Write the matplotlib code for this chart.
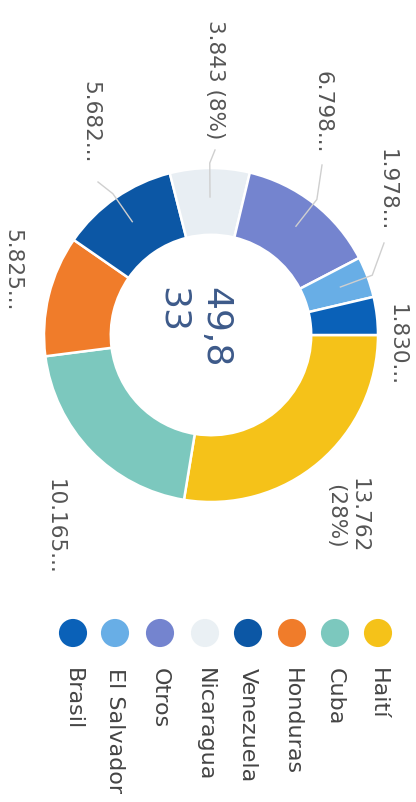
import matplotlib.pyplot as plt
import numpy as np

# data
paises = ['Haití', 'Cuba', 'Honduras', 'Venezuela', 'Nicaragua', 'Otros', 'El Salvador', 'Brasil']
valores = [13762, 10165, 5825, 5682, 3843, 6798, 1978, 1830]
etiquetas = ['13.762\n(28%)', '10.165...', '5.825...', '5.682...', '3.843 (8%)', '6.798...', '1.978...', '1.830...']
total_txt = '49,8\n33'

colores = ['#F5C219', '#7CC8BE', '#F07C2A', '#0C57A5', '#E8EEF3', '#7484CF', '#68AEE6', '#0A61B8']

# layout (pixels, origin top-left; whole chart is turned 90 deg)
W, H = 416, 802
cx, cy = 211, 335
r_out = 167
label_xy = [(347, 516), (55, 527), (12, 270), (90, 122), (215, 80), (323, 112), (387, 190), (397, 345)]
line_end = [None, None, None, (98, 182), (215, 150), (322, 165), (384, 243), None]

fig = plt.figure(figsize=(W / 100, H / 100), dpi=100)
ax = fig.add_axes([0, 0, 1, 1])

wedges, _ = ax.pie(valores, colors=colores, startangle=0, counterclock=True,
                   center=(cx, cy), radius=r_out,
                   wedgeprops=dict(width=r_out * 0.4, edgecolor='white', linewidth=1.8))
ax.set_xlim(0, W)
ax.set_ylim(H, 0)
ax.axis('off')

# labels and leader lines
for w, txt, (lx, ly), le in zip(wedges, etiquetas, label_xy, line_end):
    ang = np.deg2rad((w.theta1 + w.theta2) / 2)
    if le is not None:
        x0, y0 = cx + 138 * np.cos(ang), cy + 138 * np.sin(ang)
        x1, y1 = cx + 172 * np.cos(ang), cy + 172 * np.sin(ang)
        ax.plot([x0, x1, le[0]], [y0, y1, le[1]], color='#cfcfcf', lw=1)
    ax.text(lx, ly, txt, rotation=-90, rotation_mode='anchor', ha='center', va='center',
            multialignment='center', fontsize=15.5, color='#555555')

# total in the middle
ax.text(194, 287, total_txt, rotation=-90, rotation_mode='anchor', ha='left', va='center',
        multialignment='left', fontsize=26, color='#3D5A8A', linespacing=1.3)

# legend
leg_x = [378, 335, 292, 248, 205, 160, 115, 73]
for x, nombre, c in zip(leg_x, paises, colores):
    ax.scatter([x], [633], s=410, color=c if nombre != 'Nicaragua' else '#EAF0F4', edgecolor='none')
    ax.text(x, 668, nombre, rotation=-90, rotation_mode='anchor', ha='left', va='center',
            fontsize=16, color='#444444')

plt.savefig('out.png', dpi=100)
